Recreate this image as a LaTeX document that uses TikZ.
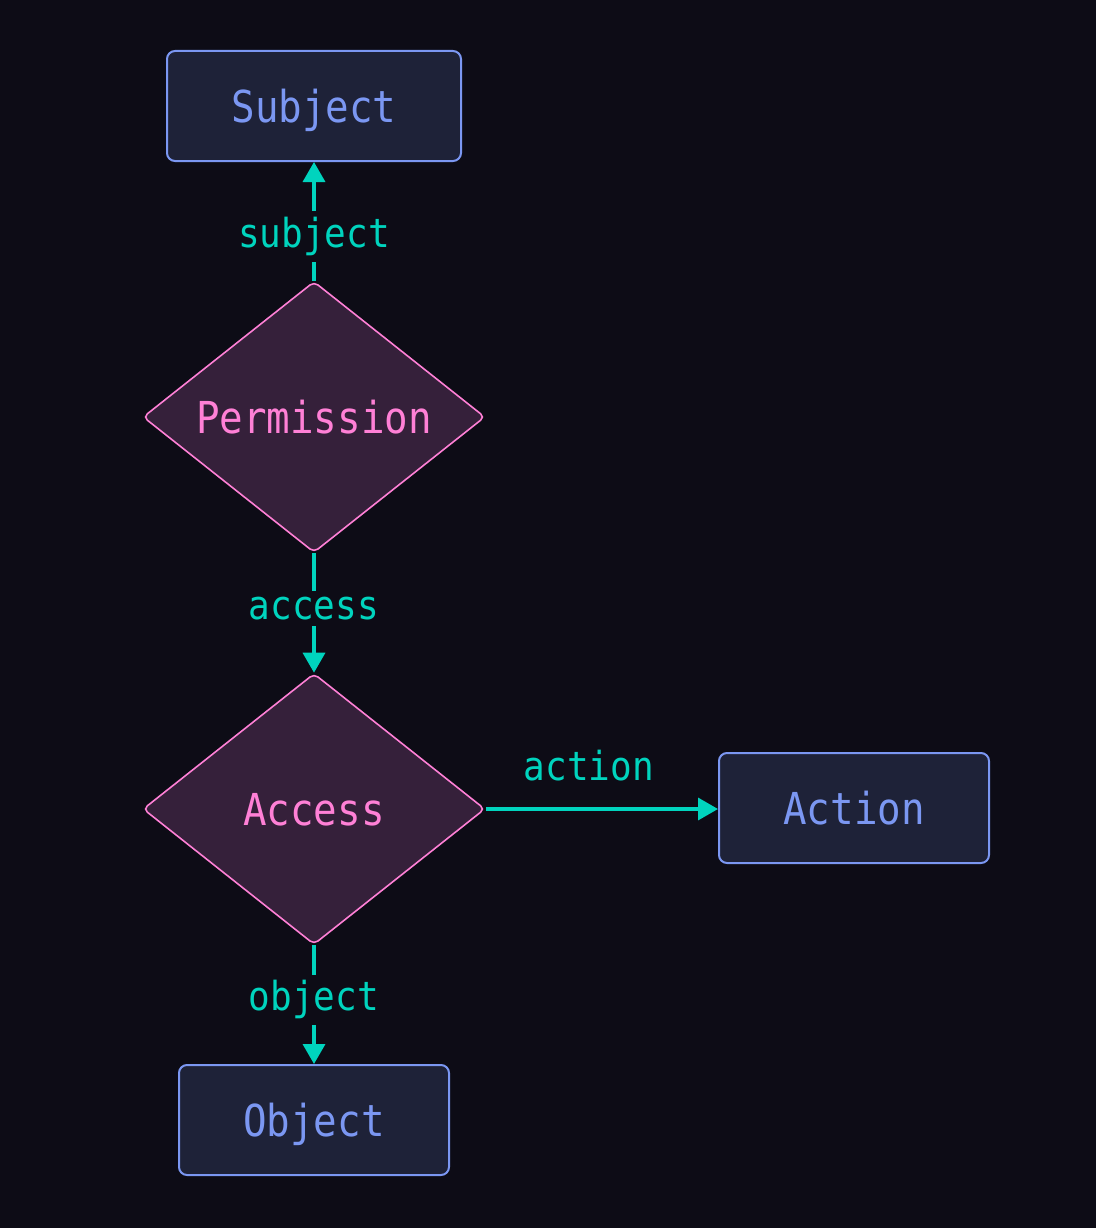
\documentclass[tikz,border=0pt]{standalone}
\usepackage{fontspec}
\newfontfamily\nodefont[FakeStretch=0.89]{DejaVu Sans Mono}
\newfontfamily\rolefont[FakeStretch=0.9]{DejaVu Sans Mono}
\usetikzlibrary{arrows.meta}
\usetikzlibrary{shapes.geometric}

\definecolor{bgcol}{HTML}{0D0C16}
\definecolor{boxfill}{HTML}{1E2238}
\definecolor{boxline}{HTML}{7B97F2}
\definecolor{relfill}{HTML}{35203A}
\definecolor{relline}{HTML}{FF80D6}
\definecolor{linkcol}{HTML}{00D4BE}

\begin{document}
\begin{tikzpicture}[x=1pt,y=-1pt]
    \tikzstyle{entity}=[rectangle,rounded corners=8pt,draw=boxline,line width=2pt,fill=boxfill,text=boxline,minimum height=110pt,inner sep=0pt,text height=32pt,text depth=0pt,font=\nodefont\fontsize{44}{48}\selectfont]
    \tikzstyle{relation}=[diamond,rounded corners=5pt,draw=relline,line width=1.6pt,fill=relfill,text=relline,minimum width=342pt,minimum height=271pt,inner sep=0pt,text height=32pt,text depth=0pt,font=\nodefont\fontsize{44}{48}\selectfont]
    \tikzstyle{link}=[draw=linkcol,line width=3.5pt,-{Triangle[length=20pt,width=22pt]}]
    \tikzstyle{role}=[text=linkcol,fill=bgcol,inner xsep=2pt,inner ysep=6pt,font=\rolefont\fontsize{40}{44}\selectfont]

    % background
    \fill[bgcol] (0,0) rectangle (1096,1228);

    \node[entity,minimum width=294pt] (subject)    at (314,106)  {Subject};
    \node[relation]                   (permission) at (314,417)  {Permission};
    \node[relation]                   (access)     at (314,809)  {Access};
    \node[entity,minimum width=270pt] (action)     at (854,808)  {Action};
    \node[entity,minimum width=270pt] (object)     at (314,1120) {Object};

    \path[link] (permission) -- node[role,pos=0.37] {subject} (subject);
    \path[link] (permission) -- node[role,pos=0.46] {access} (access);
    \path[link] (access.east) -- node[role,above=20pt,fill=none,xshift=-13pt] {action} (action.west |- access.east);
    \path[link] (access) -- node[role,pos=0.46] {object} (object);
\end{tikzpicture}
\end{document}
